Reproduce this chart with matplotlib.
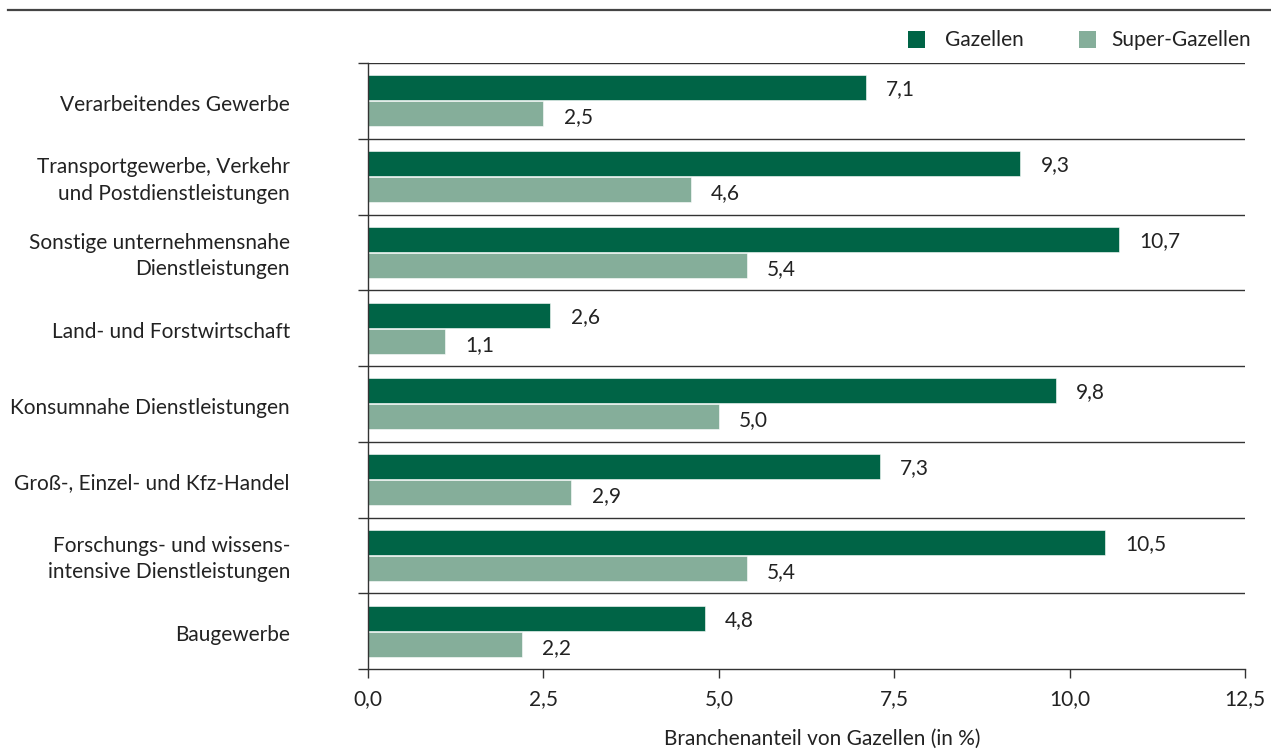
import matplotlib.pyplot as plt
from matplotlib.patches import Rectangle
from matplotlib.lines import Line2D

plt.rcParams['font.family'] = ['Lato', 'DejaVu Sans']

CATEGORIES = [
    "Verarbeitendes Gewerbe",
    "Transportgewerbe, Verkehr\nund Postdienstleistungen",
    "Sonstige unternehmensnahe\nDienstleistungen",
    "Land- und Forstwirtschaft",
    "Konsumnahe Dienstleistungen",
    "Groß-, Einzel- und Kfz-Handel",
    "Forschungs- und wissens-\nintensive Dienstleistungen",
    "Baugewerbe",
]
GAZELLEN = [7.1, 9.3, 10.7, 2.6, 9.8, 7.3, 10.5, 4.8]
SUPER_GAZELLEN = [2.5, 4.6, 5.4, 1.1, 5.0, 2.9, 5.4, 2.2]
X_TICKS = [0, 2.5, 5.0, 7.5, 10.0, 12.5]
SERIES_NAMES = ["Gazellen", "Super-Gazellen"]

DARK = '#006446'
LIGHT = '#85ae9a'
INK = '#333333'
TEXT = '#222222'
FS = 15

W, H = 1271, 749
fig = plt.figure(figsize=(W / 100, H / 100), dpi=100)
ax = fig.add_axes([368 / W, 1 - 669 / H, 877 / W, (669 - 63) / H])

n = len(CATEGORIES)
bar_h = 0.33
for i, (g, s) in enumerate(zip(GAZELLEN, SUPER_GAZELLEN)):
    yc = i + 0.5
    ax.barh(yc - 0.17, g, height=bar_h, color=DARK, edgecolor='white', linewidth=0.4)
    ax.barh(yc + 0.17, s, height=bar_h, color=LIGHT, edgecolor='white', linewidth=0.4)
    for val, yy in ((g, yc - 0.15), (s, yc + 0.22)):
        ax.annotate(f"{val:.1f}".replace('.', ','), xy=(val, yy), xytext=(14.5, 0),
                    textcoords='offset points', va='center', ha='left',
                    fontsize=FS, color=TEXT)
    ax.text(-78 / 877, yc + 0.05, CATEGORIES[i], transform=ax.get_yaxis_transform(),
            ha='right', va='center', fontsize=FS, color=TEXT, linespacing=1.4)

# group separators
ax.hlines(range(n), 0, 12.5, color=INK, linewidth=1.0)

ax.set_xlim(0, 12.5)
ax.set_ylim(n, 0)
ax.set_yticks(range(n + 1))
ax.set_yticklabels([])
ax.set_xticks(X_TICKS)
ax.set_xticklabels([f"{t:.1f}".replace('.', ',') for t in X_TICKS], fontsize=FS, color=TEXT)
ax.tick_params(axis='y', direction='out', length=7.5, width=1.0, color=INK)
ax.tick_params(axis='x', direction='out', length=6.5, width=1.0, color=INK, pad=8)
for side in ('top', 'right'):
    ax.spines[side].set_visible(False)
for side in ('left', 'bottom'):
    ax.spines[side].set_color(INK)
    ax.spines[side].set_linewidth(1.0)

fig.text(822 / W, 1 - 739 / H, "Branchenanteil von Gazellen (in %)", ha='center', va='center',
         fontsize=FS, color=TEXT)

# legend
for x0, tx, col, name in ((908, 945, DARK, SERIES_NAMES[0]), (1079, 1111, LIGHT, SERIES_NAMES[1])):
    fig.patches.append(Rectangle((x0 / W, 1 - 48 / H), 17 / W, 17 / H, transform=fig.transFigure,
                                 facecolor=col, edgecolor='none'))
    fig.text(tx / W, 1 - 40 / H, name, ha='left', va='center', fontsize=FS, color=TEXT)

# rule below the header
fig.add_artist(Line2D([8 / W, 1], [1 - 9.5 / H] * 2, transform=fig.transFigure,
                      color='#444444', linewidth=1.6))

fig.savefig('out.png', dpi=100, facecolor='white')
